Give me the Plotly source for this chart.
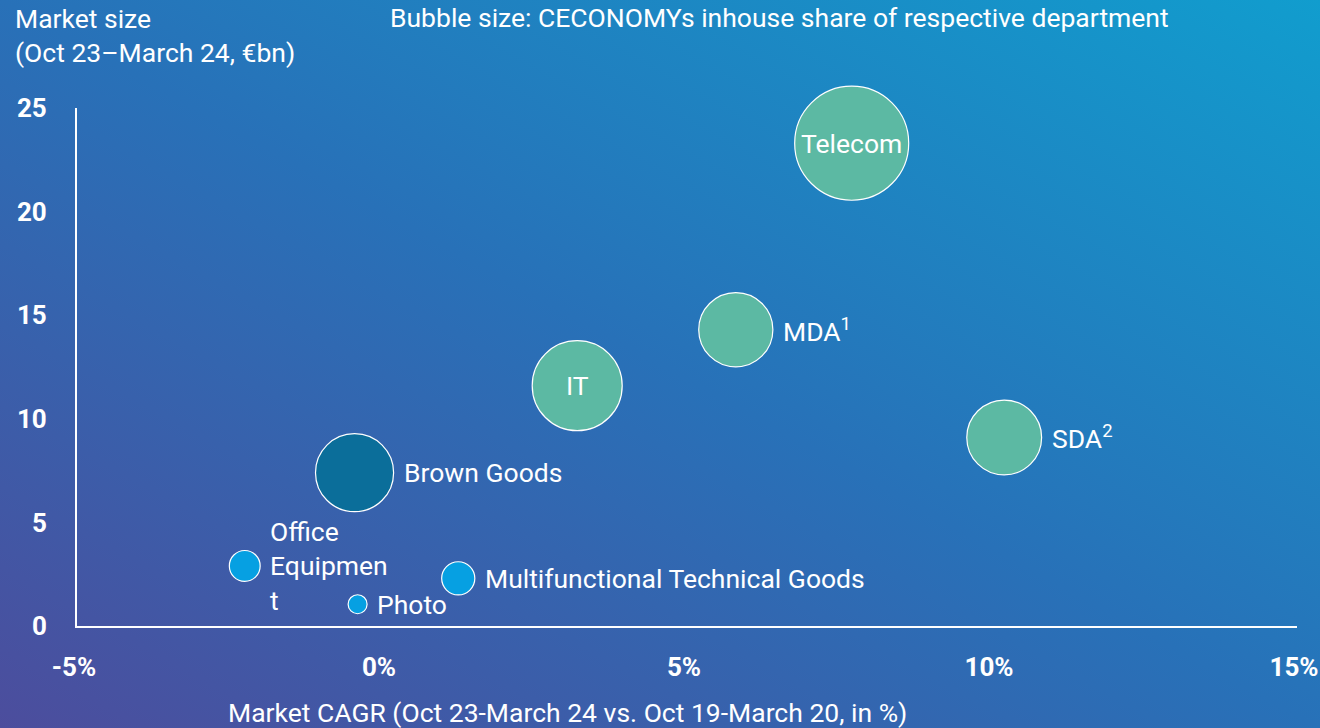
import base64
import math
import plotly.graph_objects as go

# market data
departments = ["Telecom", "MDA<sup>1</sup>", "IT", "SDA<sup>2</sup>", "Brown Goods",
               "Office<br>Equipmen<br>t", "Photo", "Multifunctional Technical Goods"]
cagr = [7.7, 5.8, 3.2, 10.2, -0.45, -2.25, -0.4, 1.25]
market_size = [23.3, 14.3, 11.6, 9.1, 7.4, 2.9, 1.05, 2.3]
inhouse_share = [26, 11, 16.2, 11.2, 12.2, 1.9, 0.72, 2.2]
groups = ["core", "core", "core", "core", "brown", "small", "small", "small"]
label_inside = [True, False, True, False, False, False, False, False]

x_ticks = [-5, 0, 5, 10, 15]
x_tick_labels = ["-5%", "0%", "5%", "10%", "15%"]
y_ticks = [0, 5, 10, 15, 20, 25]

colors = {"core": "#5CB9A3", "brown": "#0B6E9A", "small": "#06A0E2"}
sizeref = 0.004
font = "Roboto, Arial, sans-serif"
fsize = 26.5

# background gradient as an svg image
svg = """<svg xmlns='http://www.w3.org/2000/svg' width='1320' height='728' preserveAspectRatio='none'>
<defs><linearGradient id='g' x1='0' y1='1' x2='1' y2='0'>
<stop offset='0' stop-color='#4C4D9D'/><stop offset='0.5' stop-color='#2871B8'/>
<stop offset='1' stop-color='#119DCE'/></linearGradient></defs>
<rect width='1320' height='728' fill='url(#g)'/></svg>"""
bg_src = "data:image/svg+xml;base64," + base64.b64encode(svg.encode()).decode()

fig = go.Figure()

fig.add_trace(go.Scatter(
    x=cagr, y=market_size, mode="markers",
    marker=dict(size=inhouse_share, sizemode="area", sizeref=sizeref,
                color=[colors[g] for g in groups],
                line=dict(color="white", width=1.2), opacity=1),
    cliponaxis=False, hoverinfo="skip", showlegend=False
))

# labels next to (or inside) bubbles
for name, x, y, s, inside in zip(departments, cagr, market_size, inhouse_share, label_inside):
    r = math.sqrt(2 * s / sizeref) / 2
    if inside:
        fig.add_annotation(x=x, y=y, text=name, showarrow=False,
                           xanchor="center", yanchor="middle",
                           font=dict(size=fsize, color="white", family=font))
    else:
        fig.add_annotation(x=x, y=y, text=name, showarrow=False, align="left",
                           xanchor="left", yanchor="middle", xshift=r + 8,
                           font=dict(size=fsize, color="white", family=font))

L, R, T, B = 77, 23, 108, 102
pw, ph = 1320 - L - R, 728 - T - B

fig.add_annotation(xref="paper", yref="paper", x=-(L - 13) / pw, y=1 + (T - 1) / ph,
                   text="Market size<br>(Oct 23–March 24, €bn)", showarrow=False,
                   xanchor="left", yanchor="top", align="left",
                   font=dict(size=fsize, color="white", family=font))
fig.add_annotation(xref="paper", yref="paper", x=(388 - L) / pw, y=1 + (T - 18) / ph,
                   text="Bubble size: CECONOMYs inhouse share of respective department",
                   showarrow=False, xanchor="left", yanchor="middle",
                   font=dict(size=fsize, color="white", family=font))
fig.add_annotation(xref="paper", yref="paper", x=(567 - L) / pw, y=-(712 - (728 - B)) / ph,
                   text="Market CAGR (Oct 23-March 24 vs. Oct 19-March 20, in %)",
                   showarrow=False, xanchor="center", yanchor="middle",
                   font=dict(size=fsize, color="white", family=font))

fig.add_layout_image(dict(source=bg_src, xref="paper", yref="paper",
                          x=-L / pw, y=1 + T / ph, sizex=1320 / pw, sizey=728 / ph,
                          xanchor="left", yanchor="top", sizing="stretch", layer="below"))

fig.update_xaxes(range=[-5, 15], tickvals=x_ticks, ticktext=x_tick_labels,
                 showgrid=False, zeroline=False, showline=True, linecolor="white", linewidth=2,
                 ticks="outside", ticklen=17, tickcolor="rgba(0,0,0,0)",
                 ticklabeloverflow="allow", automargin=False, ticklabelshift=-3,
                 tickfont=dict(size=26, color="white", family=font, weight="bold"))
fig.update_yaxes(range=[0, 25], tickvals=y_ticks,
                 showgrid=False, zeroline=False, showline=True, linecolor="white", linewidth=2,
                 ticks="outside", ticklen=23, tickcolor="rgba(0,0,0,0)",
                 ticklabeloverflow="allow", automargin=False,
                 tickfont=dict(size=26, color="white", family=font, weight="bold"))

fig.update_layout(
    width=1320, height=728,
    margin=dict(l=L, r=R, t=T, b=B),
    paper_bgcolor="#2871B8", plot_bgcolor="rgba(0,0,0,0)",
    showlegend=False
)

fig.write_html("out.html", config={"displayModeBar": False},
               post_script="document.body.style.margin='0';document.body.style.overflow='hidden';")
